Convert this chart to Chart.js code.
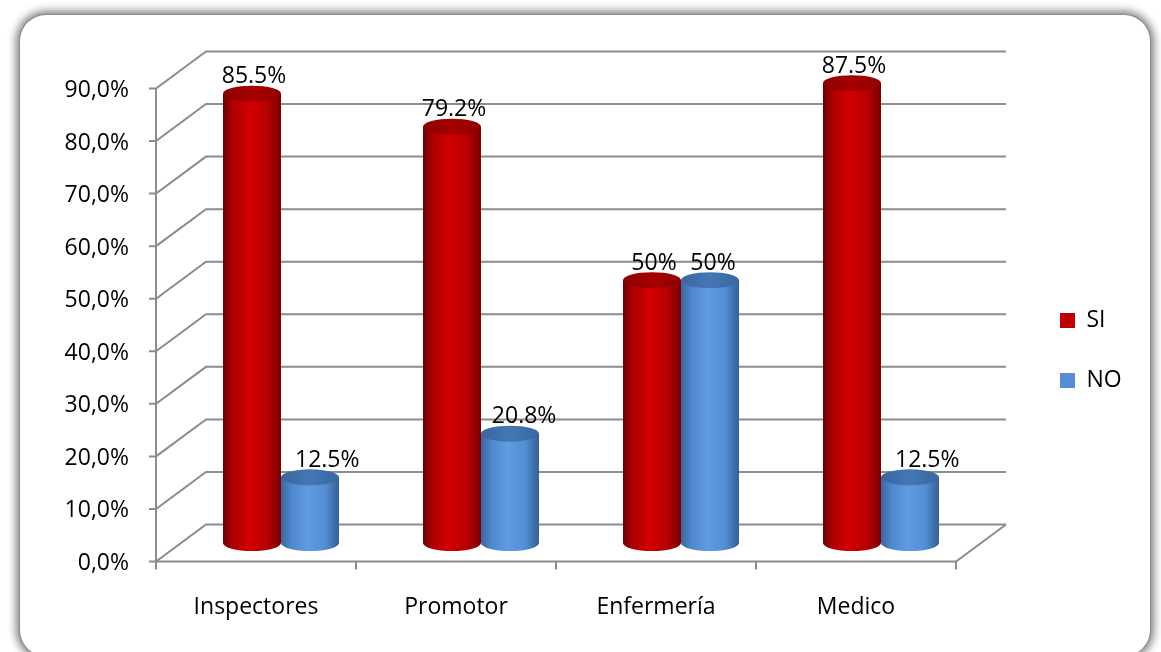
<!DOCTYPE html>
<html>
<head>
<meta charset="utf-8">
<script src="https://cdn.jsdelivr.net/npm/chart.js@4.4.0/dist/chart.umd.min.js"></script>
<style>
  html, body { margin: 0; padding: 0; background: #fff; }
  body { width: 1161px; height: 652px; overflow: hidden; position: relative; }
  .frame {
    position: absolute; left: 20px; top: 15px; width: 1130px; height: 641px;
    border-radius: 26px; background: #fff;
    box-shadow: 0 0 0 1px #8a8a8a, 0 0 9px 4px rgba(0, 0, 0, 0.5);
  }
  #chart { position: absolute; left: 0; top: 0; }
</style>
</head>
<body>
<div class="frame"></div>
<canvas id="chart" width="1161" height="652"></canvas>
<script>
const categories = ['Inspectores', 'Promotor', 'Enfermería', 'Medico'];
const siValues = [85.5, 79.2, 50, 87.5];
const noValues = [12.5, 20.8, 50, 12.5];
const yTickLabels = ['0,0%', '10,0%', '20,0%', '30,0%', '40,0%', '50,0%', '60,0%', '70,0%', '80,0%', '90,0%'];

const FONT = 'Open Sans';
const DEPTH_X = 25;     // half depth of the 3d box, horizontal
const DEPTH_Y = 18.5;   // half depth of the 3d box, vertical
const GRID = '#8c8c8c';

const RED = {
    legend: '#c00000',
    body: [[0, '#6e0000'], [0.18, '#b00000'], [0.45, '#d20000'], [0.75, '#b80000'], [1, '#7a0000']],
    top: [[0, '#8a0000'], [0.5, '#a80000'], [1, '#900000']]
};
const BLUE = {
    legend: '#558ed5',
    body: [[0, '#3a67a0'], [0.2, '#5189d0'], [0.45, '#5f9be2'], [0.75, '#548fd6'], [1, '#36609a']],
    top: [[0, '#3a66a0'], [0.5, '#4377b4'], [1, '#3a68a2']]
};

function fmtLabel(v) {
    return Number.isInteger(v) ? v + '%' : v.toFixed(1) + '%';
}

function gradient(ctx, x0, x1, stops) {
    const g = ctx.createLinearGradient(x0, 0, x1, 0);
    stops.forEach(([o, c]) => g.addColorStop(o, c));
    return g;
}

function drawCylinder(ctx, x, top, base, w, col) {
    const rx = w / 2, ry = 8;
    const left = x - rx, right = x + rx;
    ctx.beginPath();
    ctx.moveTo(left, top);
    ctx.lineTo(left, base);
    ctx.ellipse(x, base, rx, ry, 0, Math.PI, 0, true);
    ctx.lineTo(right, top);
    ctx.closePath();
    ctx.fillStyle = gradient(ctx, left, right, col.body);
    ctx.fill();

    ctx.beginPath();
    ctx.ellipse(x, top, rx, ry, 0, 0, Math.PI * 2);
    ctx.fillStyle = gradient(ctx, left, right, col.top);
    ctx.fill();
}

// walls, floor and gridlines of the 3d box
const boxPlugin = {
    id: 'box3d',
    beforeDatasetsDraw(chart) {
        const {ctx, chartArea, scales: {x, y}} = chart;
        const fl = chartArea.left - DEPTH_X, bl = chartArea.left + DEPTH_X;
        const fr = chartArea.right - DEPTH_X, br = chartArea.right + DEPTH_X;
        ctx.save();
        ctx.strokeStyle = GRID;
        ctx.lineWidth = 2;
        ctx.lineCap = 'butt';
        y.ticks.forEach(t => {
            const py = y.getPixelForValue(t.value);
            ctx.beginPath();
            ctx.moveTo(fl - 7, py + DEPTH_Y);
            ctx.lineTo(fl, py + DEPTH_Y);
            ctx.lineTo(bl, py - DEPTH_Y);
            ctx.lineTo(br, py - DEPTH_Y);
            ctx.stroke();
        });
        const top = y.getPixelForValue(y.max) + DEPTH_Y;
        const zero = y.getPixelForValue(0);
        ctx.beginPath();
        ctx.moveTo(fl, top);
        ctx.lineTo(fl, zero + DEPTH_Y + 8);
        ctx.moveTo(fl, zero + DEPTH_Y);
        ctx.lineTo(fr, zero + DEPTH_Y);
        ctx.lineTo(br, zero - DEPTH_Y);
        ctx.stroke();
        // category separators on the front edge of the floor
        const step = x.getPixelForValue(1) - x.getPixelForValue(0);
        for (let i = 1; i <= categories.length; i++) {
            const px = x.getPixelForValue(i) - step / 2 - DEPTH_X;
            ctx.beginPath();
            ctx.moveTo(px, zero + DEPTH_Y);
            ctx.lineTo(px, zero + DEPTH_Y + 8);
            ctx.stroke();
        }
        ctx.restore();
    },
    beforeDatasetDraw() {
        return false;
    },
    afterDatasetsDraw(chart) {
        const {ctx} = chart;
        const colors = [RED, BLUE];
        ctx.save();
        chart.data.datasets.forEach((ds, di) => {
            chart.getDatasetMeta(di).data.forEach((bar, i) => {
                const p = bar.getProps(['x', 'y', 'base', 'width'], true);
                drawCylinder(ctx, p.x, p.y, p.base, p.width, colors[di]);
            });
        });
        ctx.fillStyle = '#000';
        ctx.font = '23px "' + FONT + '"';
        ctx.textAlign = 'center';
        ctx.textBaseline = 'middle';
        chart.data.datasets.forEach((ds, di) => {
            chart.getDatasetMeta(di).data.forEach((bar, i) => {
                const v = ds.data[i];
                const shift = di === 1 ? 3 + (50 - v) * 0.38 : 2;
                ctx.fillText(fmtLabel(v), bar.x + shift, bar.y - 17);
            });
        });
        ctx.restore();
    },
    afterLayout(chart) {
        const lg = chart.legend;
        const w = lg.width, h = lg.height;
        lg.left = 1023;
        lg.top = 272;
        lg.right = lg.left + w;
        lg.bottom = lg.top + h;
    }
};

new Chart(document.getElementById('chart'), {
    type: 'bar',
    data: {
        labels: categories,
        datasets: [
            { label: 'SI', data: siValues, backgroundColor: RED.legend, borderWidth: 0 },
            { label: 'NO', data: noValues, backgroundColor: BLUE.legend, borderWidth: 0 }
        ]
    },
    options: {
        responsive: false,
        animation: false,
        devicePixelRatio: 1,
        categoryPercentage: 0.58,
        barPercentage: 1,
        layout: { padding: { top: 70, bottom: 0, left: 0, right: 180 } },
        plugins: {
            tooltip: { enabled: false },
            legend: {
                position: 'chartArea',
                align: 'start',
                labels: {
                    boxWidth: 15,
                    boxHeight: 15,
                    padding: 37,
                    color: '#000',
                    font: { family: FONT, size: 23 }
                }
            }
        },
        scales: {
            x: {
                grid: { display: false, drawTicks: false },
                border: { display: false },
                ticks: {
                    color: '#000',
                    font: { family: FONT, size: 23 },
                    labelOffset: -DEPTH_X,
                    padding: 51,
                    maxRotation: 0,
                    autoSkip: false
                },
                afterFit(s) { s.height = 109; }
            },
            y: {
                min: 0,
                max: 90,
                grid: { display: false, drawTicks: false },
                border: { display: false },
                ticks: {
                    stepSize: 10,
                    color: '#000',
                    font: { family: FONT, size: 23 },
                    padding: 52,
                    labelOffset: DEPTH_Y + 2,
                    callback: (v, i) => yTickLabels[i]
                },
                afterFit(s) { s.width = 181; }
            }
        }
    },
    plugins: [boxPlugin]
});
</script>
</body>
</html>
